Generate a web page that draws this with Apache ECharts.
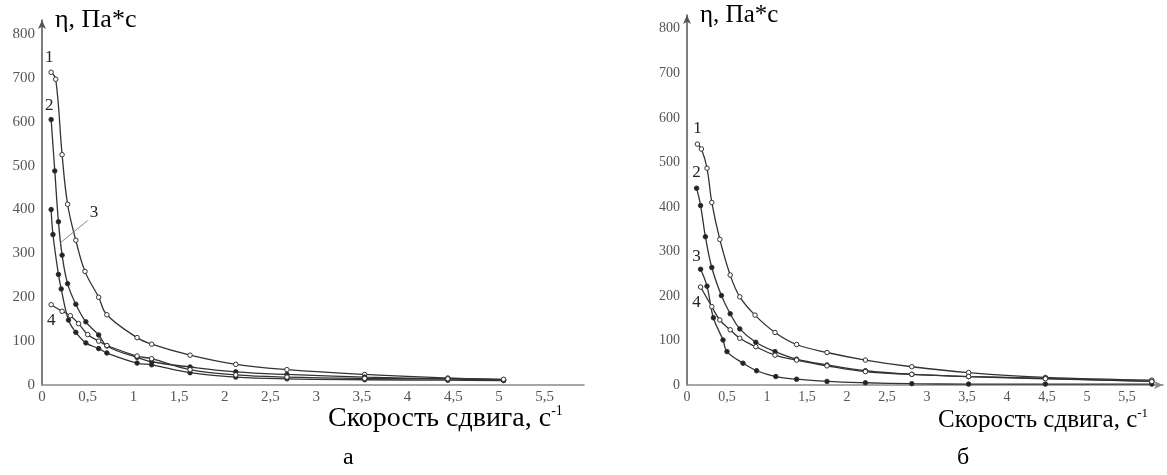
<!DOCTYPE html>
<html><head><meta charset="utf-8">
<script src="https://cdn.jsdelivr.net/npm/echarts@6/dist/echarts.min.js"></script>
<style>html,body{margin:0;padding:0;background:#fff}#c{width:1167px;height:475px}</style>
</head><body><div id="c"></div>
<script>
// ---- data (shear rate, viscosity) ----
const xTicks = [0,0.5,1,1.5,2,2.5,3,3.5,4,4.5,5,5.5];
const yTicks = [0,100,200,300,400,500,600,700,800];
const curveNames = ['1','2','3','4'];
// panel а
const a1 = [[0.1,713],[0.15,697],[0.22,525],[0.28,412],[0.37,330],[0.47,259],[0.62,200],[0.71,160],[1.04,108],[1.2,93],[1.62,68],[2.12,47],[2.68,35],[3.53,24],[4.44,16],[5.05,12]];
const a2 = [[0.1,605],[0.14,488],[0.18,372],[0.22,296],[0.28,231],[0.37,184],[0.48,144],[0.62,114],[0.71,89],[1.04,63],[1.2,53],[1.62,41],[2.12,30],[2.68,24],[3.53,18],[4.44,14],[5.05,12]];
const a3 = [[0.1,400],[0.12,343],[0.18,252],[0.21,219],[0.29,148],[0.37,120],[0.48,96],[0.62,83],[0.71,73],[1.04,50],[1.2,46],[1.62,28],[2.12,18],[2.68,14],[3.53,12],[4.44,11],[5.05,10]];
const a4 = [[0.1,183],[0.22,168],[0.31,158],[0.4,140],[0.5,115],[0.62,100],[0.71,90],[1.04,66],[1.2,60],[1.62,35],[2.12,23],[2.68,18],[3.53,15],[4.44,14],[5.05,13]];
const aLeader3 = [[0.2,324],[0.5,375]];
// panel б
const b1 = [[0.13,541],[0.18,530],[0.25,487],[0.31,410],[0.41,327],[0.54,247],[0.66,198],[0.85,157],[1.1,118],[1.37,91],[1.75,73],[2.23,56],[2.81,41],[3.52,28],[4.48,17],[5.81,11]];
const b2 = [[0.12,442],[0.17,403],[0.23,333],[0.31,264],[0.43,201],[0.54,160],[0.66,126],[0.86,96],[1.1,75],[1.37,58],[1.75,45],[2.23,32],[2.81,24],[3.52,19],[4.48,15],[5.81,8]];
const b3 = [[0.17,260],[0.25,222],[0.33,151],[0.45,101],[0.5,75],[0.7,49],[0.87,32],[1.11,19],[1.37,13],[1.75,8],[2.23,5],[2.81,3],[3.52,2],[4.48,2],[5.81,2]];
const b4 = [[0.17,220],[0.31,176],[0.41,146],[0.54,124],[0.66,105],[0.86,86],[1.1,67],[1.37,56],[1.75,43],[2.23,30],[2.81,24],[3.52,19],[4.48,14],[5.81,8]];
const panelLabels = ['а','б'];
const yTitle = 'η, Па*с';
const xTitle = 'Скорость сдвига, с';

const SERIF = '"Liberation Serif","Times New Roman","DejaVu Serif",serif';
const lineCol = '#333';

function fmt(v){ return String(v).replace('.', ','); }

function xAxisCfg(grid, max, arrow, fs){
  return {type:'value', gridIndex:grid, min:0, max:max, interval:0.5,
    axisLine:{show:true, onZero:false, lineStyle:{color:'#8a8a8a', width:1.5},
      symbol: arrow ? ['none','arrow'] : ['none','none'], symbolSize:[6,9]},
    axisTick:{show:false}, splitLine:{show:false},
    axisLabel:{showMaxLabel:false, color:'#555', fontFamily:SERIF, fontSize:fs, margin:5,
      formatter:v => xTicks.includes(Math.round(v*100)/100) ? fmt(v) : ''}};
}
function yAxisCfg(grid, max, fs){
  return {type:'value', gridIndex:grid, min:0, max:max, interval:100,
    axisLine:{show:true, lineStyle:{color:'#555', width:1.5}, symbol:['none','arrow'], symbolSize:[6,9]},
    axisTick:{show:false}, splitLine:{show:false},
    axisLabel:{showMaxLabel:false, color:'#555', fontFamily:SERIF, fontSize:fs, margin:7,
      formatter:v => yTicks.includes(v) ? String(v) : ''}};
}

function curve(data, grid, idx, filled, labelPos, labelOffset){
  const items = data.map((p,i) => (i===0 && labelPos) ? {value:p, label:{show:true, formatter:curveNames[idx],
     position:labelPos, offset:labelOffset, color:'#222', fontFamily:SERIF, fontSize:17}} : {value:p});
  return {type:'line', xAxisIndex:grid, yAxisIndex:grid, data:items, smooth:0.4,
    symbol:'circle', symbolSize:4.5, showSymbol:true,
    itemStyle:{color: filled ? '#222' : '#fff', borderColor:'#333', borderWidth:1},
    lineStyle:{color:lineCol, width:1.3}, silent:true, z:3};
}

function serifText(left, top, txt, fs){
  return {type:'text', left:left, top:top, style:{text:'{a|'+txt+'}',
    rich:{a:{fontFamily:SERIF, fontSize:fs, color:'#222'}}}};
}
function xTitleText(left, top, fs){
  return {type:'text', left:left, top:top, style:{text:'{a|'+xTitle+'}{s|-1}',
    rich:{a:{fontFamily:SERIF, fontSize:fs, color:'#333'},
          s:{fontFamily:SERIF, fontSize:Math.round(fs*0.5), color:'#333', verticalAlign:'top', padding:[0,0,Math.round(fs*0.55),0]}}}};
}

const option = {
  animation:false,
  backgroundColor:'#fff',
  grid:[
    {left:42, top:20, width:542, height:365},
    {left:687, top:15, width:476, height:370}
  ],
  xAxis:[xAxisCfg(0,5.93,false,15), xAxisCfg(1,5.95,true,14)],
  yAxis:[yAxisCfg(0,832,15), yAxisCfg(1,831,14)],
  series:[
    curve(a1,0,0,false,'top',[-2,2]),
    curve(a2,0,1,true,'top',[-2,2]),
    curve(a3,0,2,true,null,null),
    curve(a4,0,3,false,'bottom',[0,0]),
    {type:'line', xAxisIndex:0, yAxisIndex:0, data:aLeader3, symbol:'none', showSymbol:false,
      lineStyle:{color:'#888', width:1}, silent:true,
      endLabel:{show:true, formatter:curveNames[2], color:'#222', fontFamily:SERIF, fontSize:17, distance:2, offset:[0,-8]}},
    curve(b1,1,0,false,'top',[0,1]),
    curve(b2,1,1,true,'top',[0,1]),
    curve(b3,1,2,true,'top',[-4,4]),
    curve(b4,1,3,false,'bottom',[-4,-1]),
  ],
  graphic:[
    serifText(55, 7, yTitle, 26),
    serifText(700, 3, yTitle, 25),
    xTitleText(328, 404, 28),
    xTitleText(938, 407, 25),
    serifText(343, 446, panelLabels[0], 24),
    serifText(957, 446, panelLabels[1], 24)
  ]
};
const chart = echarts.init(document.getElementById('c'), null, {renderer:'canvas'});
chart.setOption(option);
</script></body></html>
